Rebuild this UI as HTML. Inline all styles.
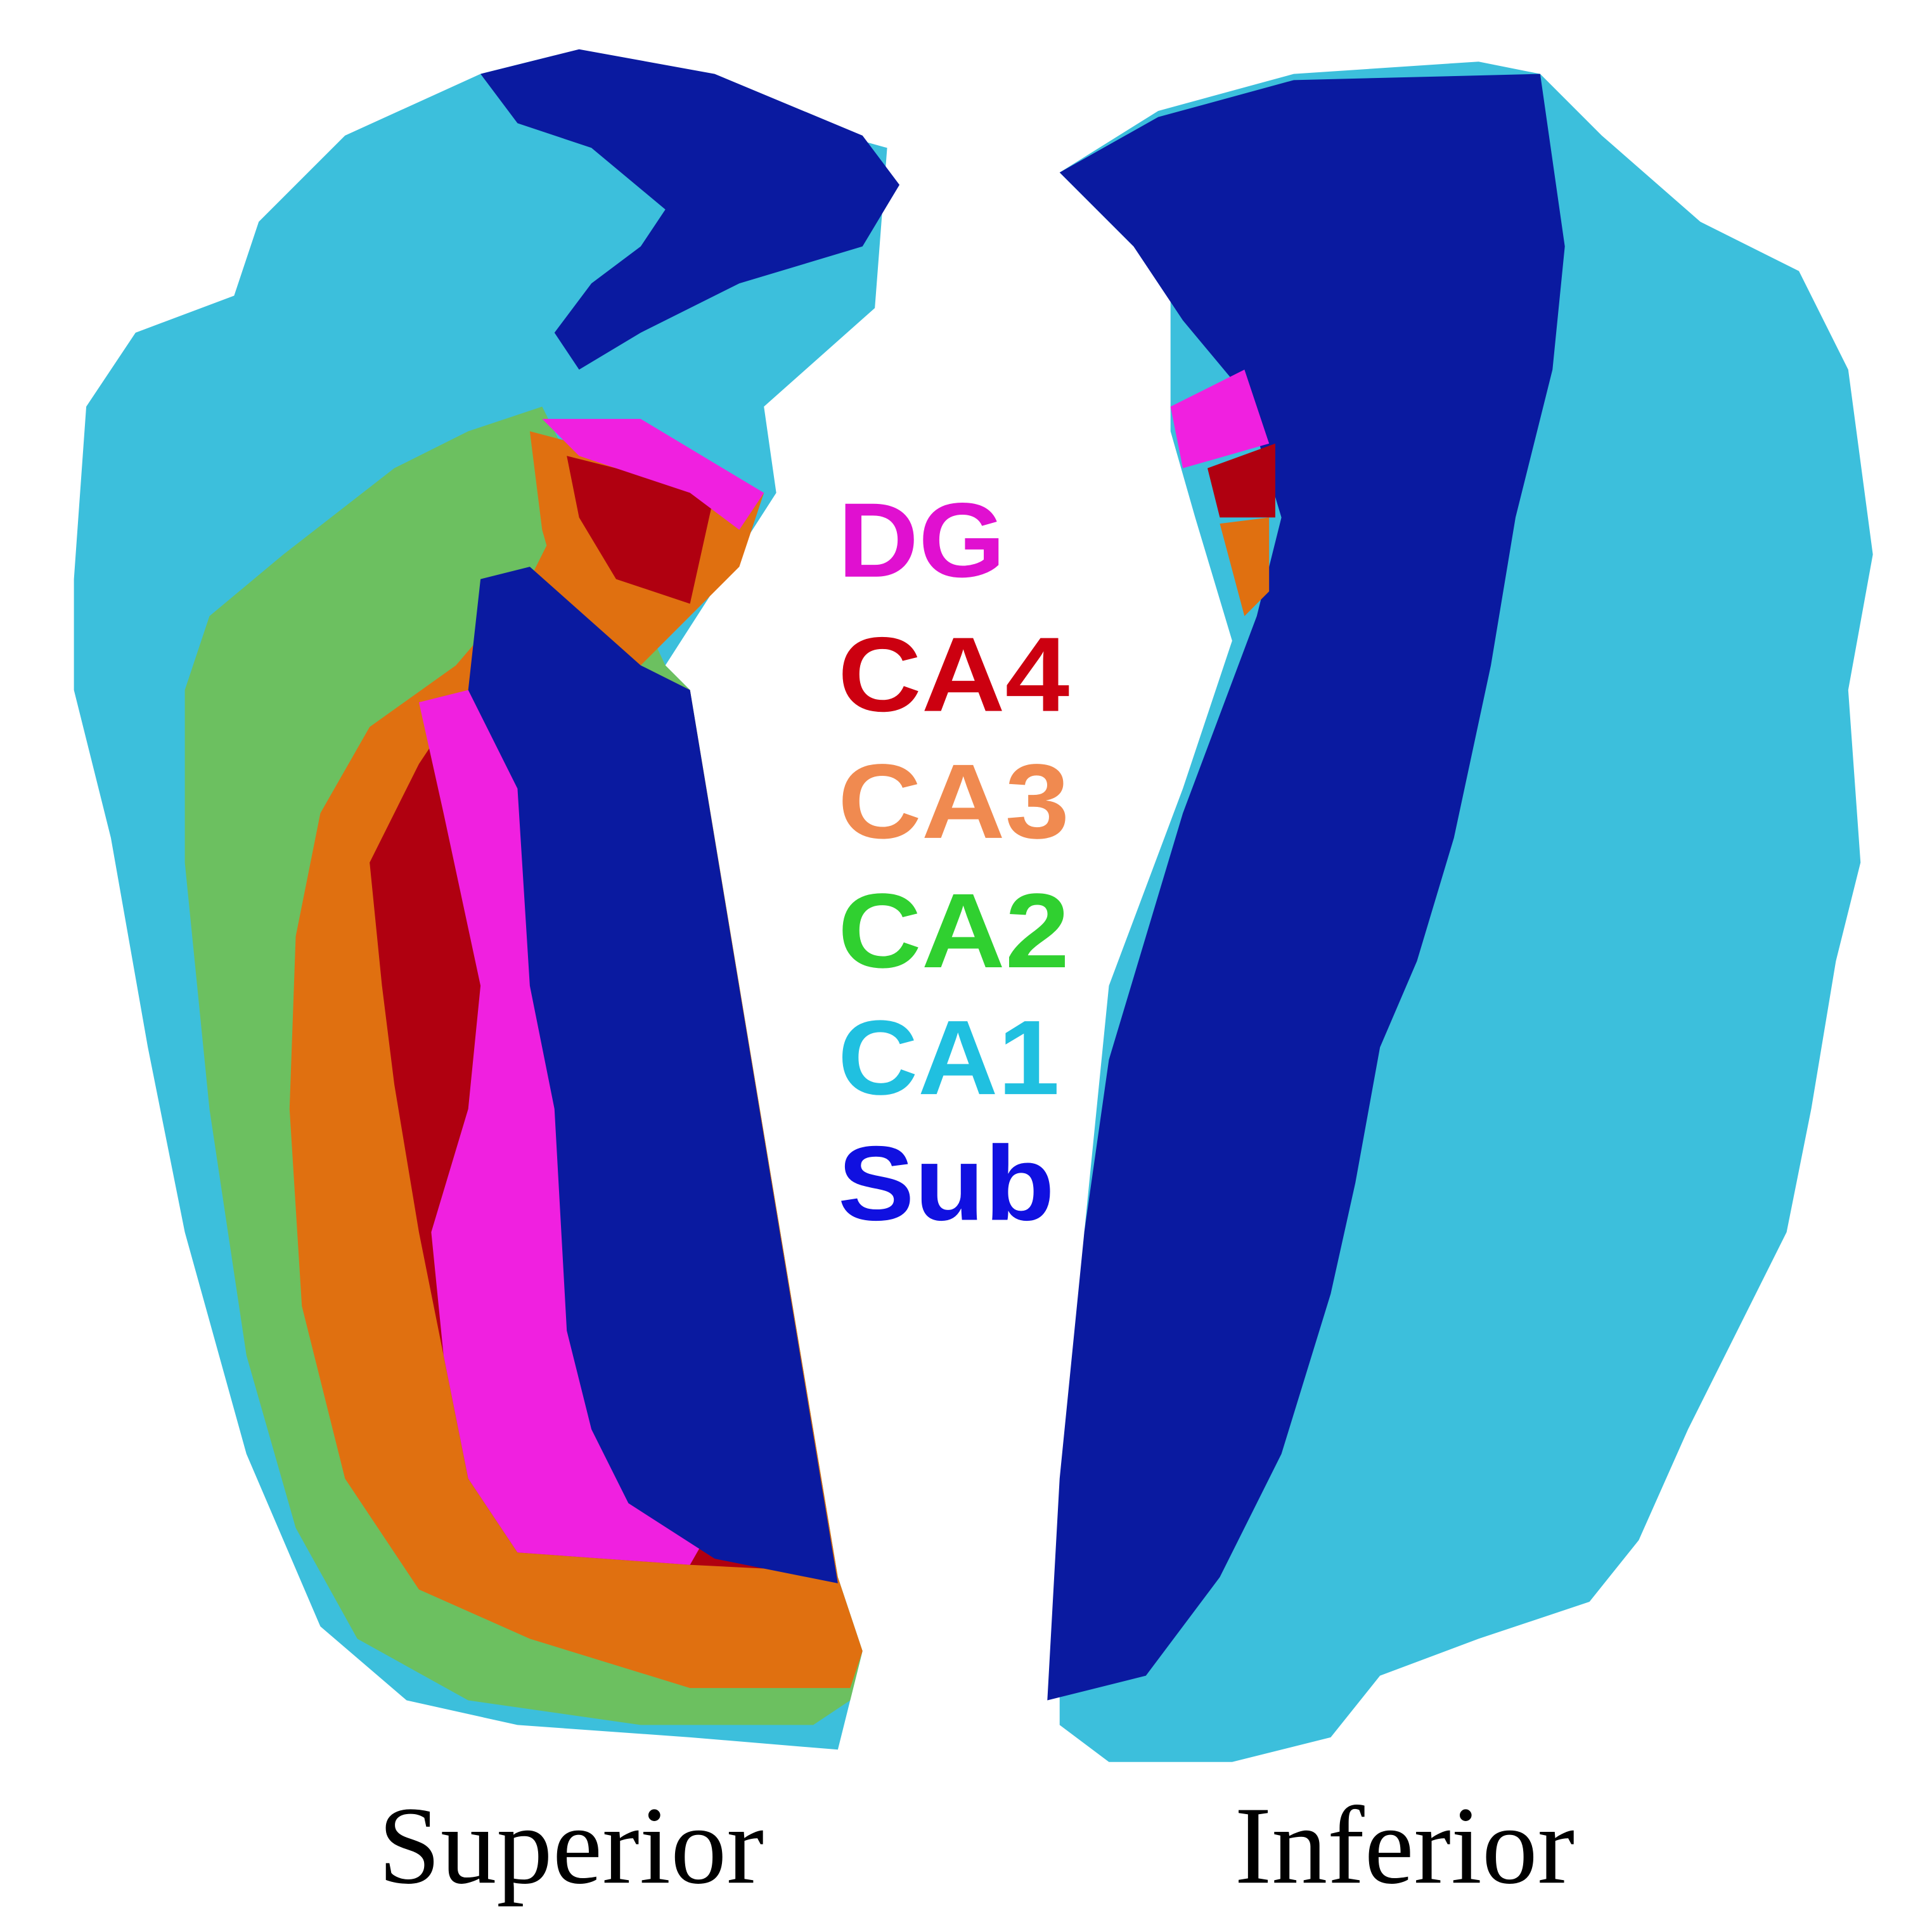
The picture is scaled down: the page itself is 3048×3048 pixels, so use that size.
<!DOCTYPE html>
<html><head><meta charset="utf-8"><style>
html,body{margin:0;padding:0;background:#fff;}
svg{display:block;}
</style></head><body>
<svg width="3048" height="3048" viewBox="0 0 1568 1568" xmlns="http://www.w3.org/2000/svg">
<rect width="1568" height="1568" fill="#fff"/>
<g>
<polygon fill="#3cbfdc" points="60,470 70,330 110,270 190,240 210,180 280,110 390,60 450,45 720,120 710,250 620,330 630,400 540,540 560,560 680,1280 700,1340 680,1420 560,1410 420,1400 330,1380 260,1320 200,1180 150,1000 120,850 90,680 60,560"/>
<polygon fill="#0a1aa0" points="390,60 470,40 580,60 700,110 730,150 700,200 600,230 520,270 470,300 450,270 480,230 520,200 540,170 480,120 420,100"/>
<polygon fill="#6cc060" points="440,330 380,350 320,380 230,450 170,500 150,560 150,700 170,900 200,1100 240,1240 290,1330 380,1380 520,1400 660,1400 690,1380 700,1340 680,1280 560,560 540,540 460,370"/>
<polygon fill="#e07010" points="430,350 470,390 430,470 370,540 300,590 260,660 240,760 235,900 245,1060 280,1200 340,1290 430,1330 560,1370 690,1370 700,1340 680,1280 560,560 520,540"/>
<polygon fill="#e07010" points="430,350 620,400 600,460 520,540 460,500 440,430"/>
<polygon fill="#b00010" points="460,370 580,400 560,490 500,470 470,420"/>
<polygon fill="#f020e0" points="440,340 520,340 620,400 600,430 560,400 470,370"/>
<polygon fill="#b00010" points="340,620 300,700 310,800 320,880 340,1000 360,1100 380,1200 420,1260 560,1270 660,1275 560,580 380,560"/>
<polygon fill="#f020e0" points="340,570 380,560 500,560 600,1200 560,1270 420,1260 380,1200 360,1100 350,1000 380,900 390,800 360,660"/>
<polygon fill="#0a1aa0" points="390,470 430,460 520,540 560,560 680,1285 580,1265 510,1220 480,1160 460,1080 450,900 430,800 420,640 380,560"/>
</g>
<g>
<polygon fill="#3cbfdc" points="860,140 940,90 1050,60 1200,50 1250,60 1300,110 1380,180 1460,220 1500,300 1520,450 1500,560 1510,700 1490,780 1470,900 1450,1000 1400,1100 1370,1160 1330,1250 1290,1300 1200,1330 1120,1360 1080,1410 1000,1430 900,1430 860,1400 860,1360 880,1000 900,800 960,640 1000,520 970,420 950,350 950,240 920,200"/>
<polygon fill="#0a1aa0" points="860,140 940,95 1050,65 1250,60 1270,200 1260,300 1230,420 1210,540 1180,680 1150,780 1120,850 1100,960 1080,1050 1040,1180 990,1280 930,1360 850,1380 860,1200 880,1000 900,860 960,660 1020,500 1040,420 1010,320 960,260 920,200"/>
<polygon fill="#f020e0" points="950,330 1010,300 1030,360 960,380"/>
<polygon fill="#b00010" points="980,380 1035,360 1035,420 990,420"/>
<polygon fill="#e07010" points="990,425 1030,420 1030,480 1010,500"/>
</g>
<g font-family="'Liberation Sans',sans-serif" font-weight="bold" font-size="86">
<text x="680" y="468" fill="#e010d0" textLength="136" lengthAdjust="spacingAndGlyphs">DG</text>
<text x="680" y="577" fill="#cc0010" textLength="188" lengthAdjust="spacingAndGlyphs">CA4</text>
<text x="680" y="680" fill="#f08a50" textLength="188" lengthAdjust="spacingAndGlyphs">CA3</text>
<text x="680" y="785" fill="#30d030" textLength="188" lengthAdjust="spacingAndGlyphs">CA2</text>
<text x="680" y="888" fill="#20c0e0" textLength="180" lengthAdjust="spacingAndGlyphs">CA1</text>
<text x="680" y="990" fill="#1010e0" textLength="176" lengthAdjust="spacingAndGlyphs">Sub</text>
</g>
<text x="307" y="1528" font-family="'Liberation Serif',serif" font-size="90" fill="#000" textLength="313" lengthAdjust="spacingAndGlyphs">Superior</text>
<text x="1002" y="1528" font-family="'Liberation Serif',serif" font-size="90" fill="#000" textLength="276" lengthAdjust="spacingAndGlyphs">Inferior</text>
</svg>
</body></html>
